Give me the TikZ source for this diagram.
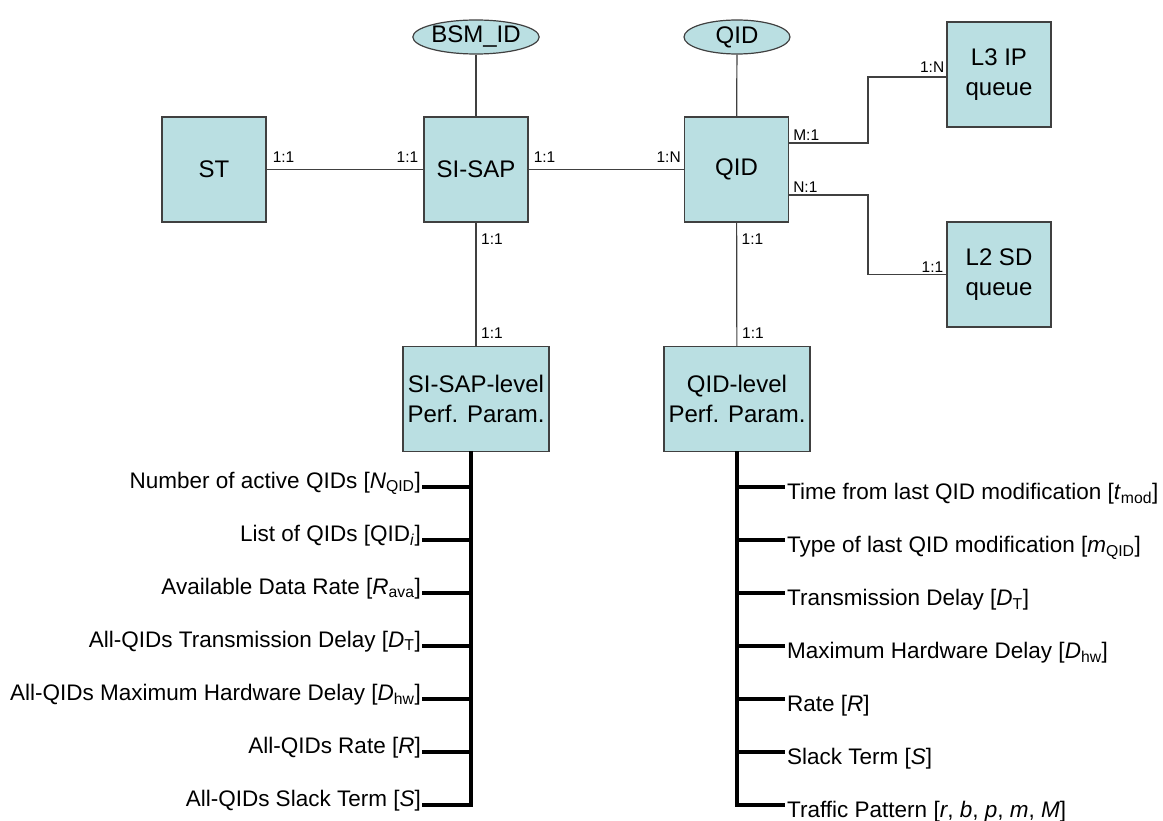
\documentclass[tikz,border=0pt]{standalone}
\usepackage{fontspec}
\setmainfont{Liberation Sans}
\usetikzlibrary{shapes.geometric}
\definecolor{boxfill}{HTML}{BADFE2}
\definecolor{edgegray}{HTML}{404040}
\begin{document}
\begin{tikzpicture}[x=1pt,y=-1pt,
  ent/.style={draw=edgegray,fill=boxfill,line width=1.2pt,minimum width=104pt,minimum height=105pt,inner sep=0pt,align=center,font=\fontsize{24}{30}\selectfont},
  attr/.style={ellipse,draw=edgegray,fill=boxfill,line width=1.2pt,minimum width=106pt,minimum height=34pt,inner sep=0pt,font=\fontsize{24}{28}\selectfont},
  conn/.style={draw=edgegray,line width=1.2pt},
  card/.style={font=\fontsize{15.5}{18}\selectfont,inner sep=0pt},
  bus/.style={draw=black,line width=4.5pt},
  tick/.style={draw=black,line width=4pt},
  itemL/.style={anchor=base east,font=\fontsize{22.5}{26}\selectfont,inner sep=0pt},
  itemR/.style={anchor=base west,font=\fontsize{22.5}{26}\selectfont,inner sep=0pt}]
\useasboundingbox (0,0) rectangle (1163,821);

% entities
\node[ent] (st) at (214,169.5) {ST};
\node[ent] (sisap) at (476,169.5) {SI-SAP};
\node[ent] (qid) at (736.5,169.5) {QID};
\node[attr] (bsm) at (476,37) {BSM\_ID};
\node[attr] (qidattr) at (737,37) {QID};
\node[ent] (l3) at (999,74.5) {L3 IP\\queue};
\node[ent] (l2) at (999,274.5) {L2 SD\\queue};
\node[ent,minimum width=146pt] (sisapp) at (476,399) {SI-SAP-level\\Perf. Param.};
\node[ent,minimum width=146pt] (qidp) at (737,399) {QID-level\\Perf. Param.};

% connectors
\draw[conn] (st) -- (sisap);
\draw[conn] (sisap) -- (qid);
\draw[conn] (bsm) -- (sisap);
\draw[conn] (qidattr) -- (qid);
\draw[conn] (sisap) -- (sisapp);
\draw[conn] (qid) -- (qidp);
\draw[conn] ([yshift=26.5pt]qid.east) -| (868,110) |- ([yshift=-2.5pt]l3.west);
\draw[conn] ([yshift=-25.5pt]qid.east) -| (868,230) |- (l2.west);

% cardinalities
\node[card,anchor=south west] at ([xshift=6pt,yshift=7pt]st.east) {1:1};
\node[card,anchor=south east] at ([xshift=-5pt,yshift=7pt]sisap.west) {1:1};
\node[card,anchor=south west] at ([xshift=5pt,yshift=7pt]sisap.east) {1:1};
\node[card,anchor=south east] at ([xshift=-3pt,yshift=7pt]qid.west) {1:N};
\node[card,anchor=south west] at ([xshift=4pt,yshift=28.5pt]qid.east) {M:1};
\node[card,anchor=south west] at ([xshift=4pt,yshift=-23.5pt]qid.east) {N:1};
\node[card,anchor=south east] at ([xshift=-2pt,yshift=1.5pt]l3.west) {1:N};
\node[card,anchor=south east] at ([xshift=-3pt,yshift=1.5pt]l2.west) {1:1};
\node[card,anchor=north west] at ([xshift=5pt,yshift=-11pt]sisap.south) {1:1};
\node[card,anchor=south west] at ([xshift=5pt,yshift=7pt]sisapp.north) {1:1};
\node[card,anchor=north west] at ([xshift=5pt,yshift=-11pt]qid.south) {1:1};
\node[card,anchor=south west] at ([xshift=5pt,yshift=7pt]qidp.north) {1:1};

% left parameter bus
\coordinate (lbtop) at (471,451);
\coordinate (lbbot) at (471,807);
\draw[bus] (lbtop) -- (lbbot);
\foreach \y in {487,540,593,646,699,752,805}{
  \draw[tick] (422,\y) -- (471,\y);
}
\node[itemL] (l1) at (421,488) {Number of active QIDs [\textit{N}\textsubscript{QID}]};
\node[itemL] (l2i) at (421,541) {List of QIDs [QID\textsubscript{\textit{i}}]};
\node[itemL] (l3i) at (421,594) {Available Data Rate [\textit{R}\textsubscript{ava}]};
\node[itemL] (l4) at (421,647) {All-QIDs Transmission Delay [\textit{D}\textsubscript{T}]};
\node[itemL] (l5) at (421,700) {All-QIDs Maximum Hardware Delay [\textit{D}\textsubscript{hw}]};
\node[itemL] (l6) at (421,753) {All-QIDs Rate [\textit{R}]};
\node[itemL] (l7) at (421,806) {All-QIDs Slack Term [\textit{S}]};

% right parameter bus
\coordinate (rbtop) at (737,451);
\coordinate (rbbot) at (737,807);
\draw[bus] (rbtop) -- (rbbot);
\foreach \y in {487,540,593,646,699,752,805}{
  \draw[tick] (737,\y) -- (785,\y);
}
\node[itemR] (r1) at (787,499.5) {Time from last QID modification [\textit{t}\textsubscript{mod}]};
\node[itemR] (r2) at (787,552.5) {Type of last QID modification [\textit{m}\textsubscript{QID}]};
\node[itemR] (r3) at (787,605.5) {Transmission Delay [\textit{D}\textsubscript{T}]};
\node[itemR] (r4) at (787,658.5) {Maximum Hardware Delay [\textit{D}\textsubscript{hw}]};
\node[itemR] (r5) at (787,711.5) {Rate [\textit{R}]};
\node[itemR] (r6) at (787,764.5) {Slack Term [\textit{S}]};
\node[itemR] (r7) at (787,817.5) {Traffic Pattern [\textit{r}, \textit{b}, \textit{p}, \textit{m}, \textit{M}]};
\end{tikzpicture}
\end{document}
